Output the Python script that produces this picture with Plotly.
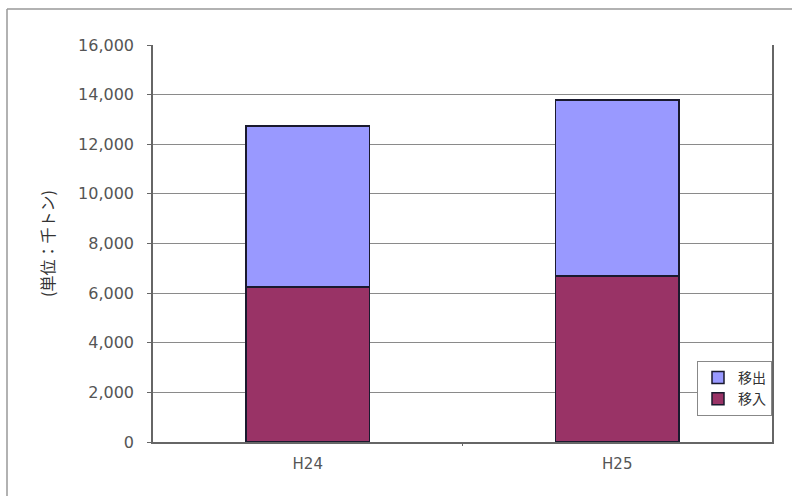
import plotly.graph_objects as go

categories = ["H24", "H25"]
inflow = [6250, 6690]     # 移入
outflow = [6490, 7090]    # 移出
y_ticks = [0, 2000, 4000, 6000, 8000, 10000, 12000, 14000, 16000]

fig = go.Figure()
fig.add_trace(go.Bar(x=categories, y=inflow, name="移入",
                     marker=dict(color="#993366", line=dict(color="#1a1a2e", width=1.5))))
fig.add_trace(go.Bar(x=categories, y=outflow, name="移出",
                     marker=dict(color="#9999FF", line=dict(color="#1a1a2e", width=1.5))))

L, R, T, B = 153, 20, 45, 54
W, H = 792, 496
pw = W - L - R
ph = H - T - B

def px(x):
    return (x - L) / pw

def py(y):
    return (H - B - y) / ph

fig.update_layout(
    width=W, height=H,
    barmode="stack",
    bargap=0.6,
    margin=dict(l=L, r=R, t=T, b=B),
    paper_bgcolor="white",
    plot_bgcolor="white",
    font=dict(family="Noto Sans CJK JP, Liberation Sans, sans-serif", size=13, color="#444"),
    showlegend=True,
    legend=dict(x=px(697), y=py(361), xanchor="left", yanchor="top",
                traceorder="reversed", bordercolor="#888", borderwidth=1,
                bgcolor="white", font=dict(size=14, color="#333"),
                itemwidth=30, tracegroupgap=0),
    xaxis=dict(showline=True, linecolor="#666", linewidth=1.5,
               ticks="", ticklabelstandoff=7,
               tickfont=dict(family="DejaVu Sans", size=15, color="#555"),
               showgrid=False, fixedrange=True),
    yaxis=dict(range=[0, 16000], tickvals=y_ticks, tickformat=",",
               showline=True, linecolor="#666", linewidth=1.5, mirror=True,
               ticks="outside", ticklen=4, tickcolor="#666", ticklabelstandoff=10,
               showgrid=True, gridcolor="#8a8a8a", gridwidth=1,
               tickfont=dict(family="DejaVu Sans", size=16, color="#555"),
               title=dict(text="(単位：千トン)", font=dict(size=16, color="#333"), standoff=19),
               zeroline=False),
    shapes=[
        dict(type="line", xref="paper", yref="paper", x0=px(7), x1=px(800), y0=py(9), y1=py(9),
             line=dict(color="#999", width=1.5)),
        dict(type="line", xref="paper", yref="paper", x0=px(7), x1=px(7), y0=py(9), y1=py(500),
             line=dict(color="#999", width=1.5)),
        dict(type="line", xref="paper", yref="paper", x0=0.5, x1=0.5, y0=0, y1=py(446),
             line=dict(color="#666", width=1)),
    ],
)

fig.write_html("out.html", config={"displayModeBar": False},
               post_script="document.body.style.margin='0';document.body.style.overflow='hidden';")
